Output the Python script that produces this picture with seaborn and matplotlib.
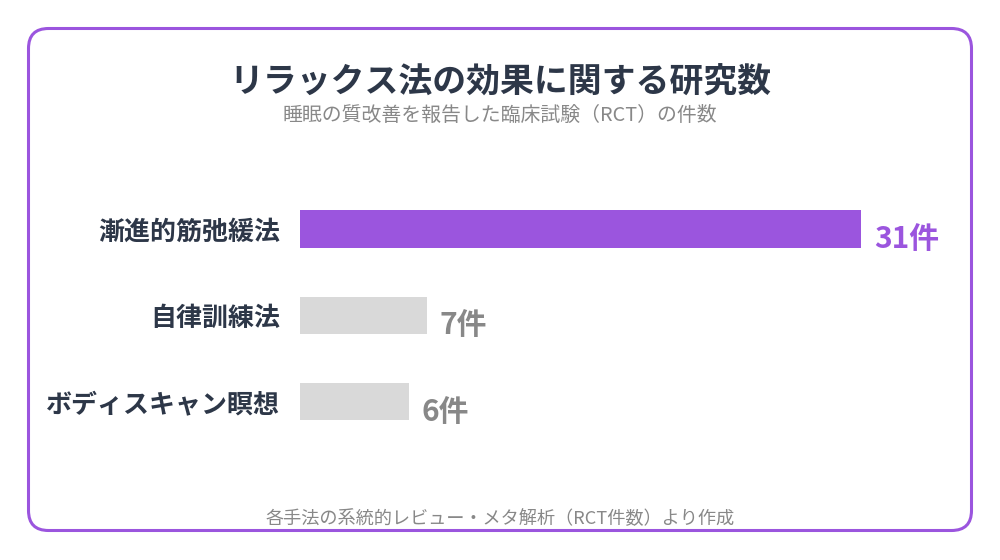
import seaborn as sns
import pandas as pd
import matplotlib.pyplot as plt
from matplotlib.patches import FancyBboxPatch

sns.set_theme(style="white")
plt.rcParams['font.family'] = ['Noto Sans CJK JP', 'DejaVu Sans']

# data
methods = ['漸進的筋弛緩法', '自律訓練法', 'ボディスキャン瞑想']
counts = [31, 7, 6]
value_labels = ['31件', '7件', '6件']

title = 'リラックス法の効果に関する研究数'
subtitle = '睡眠の質改善を報告した臨床試験（RCT）の件数'
footer = '各手法の系統的レビュー・メタ解析（RCT件数）より作成'

purple = '#9b55de'
gray_bar = '#d9d9d9'
dark = '#2d3748'
gray_txt = '#888888'

data = pd.DataFrame({'method': methods, 'count': counts})
palette = [purple, gray_bar, gray_bar]

fig = plt.figure(figsize=(10, 5.6), dpi=100)

# background frame (pixel coordinates)
bg = fig.add_axes([0, 0, 1, 1])
bg.set_xlim(0, 1000)
bg.set_ylim(560, 0)
bg.axis('off')
frame = FancyBboxPatch((28.5, 28.5), 943, 502,
                       boxstyle='round,pad=0,rounding_size=20',
                       facecolor='white', edgecolor=purple, linewidth=2.2)
bg.add_patch(frame)

fig.text(0.5, 0.854, title, ha='center', va='center', fontsize=24.4,
         fontweight='bold', color=dark)
fig.text(0.5, 0.793, subtitle, ha='center', va='center', fontsize=14.3,
         color=gray_txt)
fig.text(0.5, 0.073, footer, ha='center', va='center', fontsize=13.1,
         color=gray_txt)

# bar chart
ax = fig.add_axes([0.3, 0.206, 0.65, 0.462])
sns.barplot(data=data, x='count', y='method', hue='method', palette=palette,
            width=0.43, legend=False, ax=ax, saturation=1, linewidth=0)
ax.set_xlim(0, 650 / (561 / 31))
ax.set_ylim(2.5, -0.5)
ax.set_xlabel('')
ax.set_ylabel('')
ax.set_xticks([])
for s in ax.spines.values():
    s.set_visible(False)
ax.tick_params(axis='y', length=0, pad=14.5)
for lab in ax.get_yticklabels():
    lab.set_fontsize(18.7)
    lab.set_fontweight('bold')
    lab.set_color(dark)
ax.patch.set_alpha(0)

for i, (v, t) in enumerate(zip(counts, value_labels)):
    ax.annotate(t, xy=(v, i), xytext=(13, -10), textcoords='offset pixels',
                ha='left', va='center', fontsize=21.5, fontweight='bold',
                color=purple if i == 0 else gray_txt)

fig.savefig('out.png', dpi=100, facecolor='white')
